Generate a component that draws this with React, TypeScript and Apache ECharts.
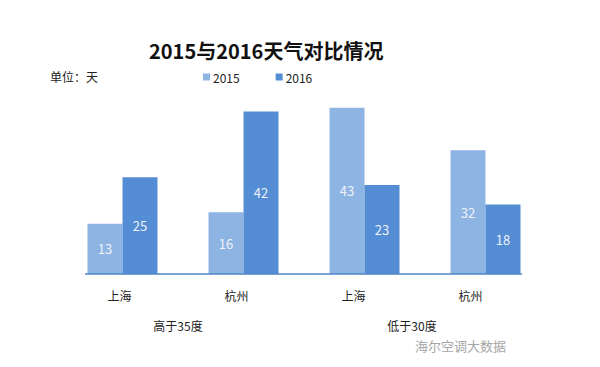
import React, { useEffect, useRef } from "react";
import * as echarts from "echarts";

const cities = ["上海", "杭州", "上海", "杭州"];
const groups = ["高于35度", "低于30度"];
const seriesNames = ["2015", "2016"];
const values2015 = [13, 16, 43, 32];
const values2016 = [25, 42, 23, 18];

const FONT = "'Noto Sans CJK SC', 'Noto Sans', sans-serif";

export default function App() {
  const ref = useRef<HTMLDivElement>(null);
  useEffect(() => {
    const chart = echarts.init(ref.current!, undefined, { renderer: "svg" });
    const label = {
      show: true,
      position: "inside",
      color: "#eef3fa",
      fontSize: 13,
      fontFamily: FONT,
    };
    chart.setOption({
      animation: false,
      backgroundColor: "#ffffff",
      textStyle: { fontFamily: FONT },
      title: {
        text: "2015与2016天气对比情况",
        left: 144,
        top: 35,
        textStyle: { fontSize: 20, fontWeight: "bold", color: "#111", fontFamily: FONT },
      },
      legend: {
        data: seriesNames,
        left: 198,
        top: 66,
        itemWidth: 7,
        itemHeight: 7,
        itemGap: 36,
        icon: "rect",
        textStyle: { fontSize: 12, color: "#222", padding: [0, 0, 0, -2] },
      },
      grid: [
        { left: 62, right: 54, top: 100, bottom: 93 },
        { left: 61, right: 71, top: 100, bottom: 93 },
      ],
      xAxis: [
        {
          type: "category",
          gridIndex: 0,
          data: cities,
          axisLine: { show: false },
          axisTick: { show: false },
          axisLabel: { show: false },
        },
        {
          type: "category",
          gridIndex: 1,
          data: cities,
          axisLine: { show: false },
          axisTick: { show: false },
          axisLabel: { margin: 15, fontSize: 12, color: "#222" },
        },
        {
          type: "category",
          gridIndex: 1,
          position: "bottom",
          offset: 30,
          data: groups,
          axisLine: { show: false },
          axisTick: { show: false },
          axisLabel: { margin: 15, fontSize: 12, color: "#222" },
        },
      ],
      yAxis: [
        { type: "value", gridIndex: 0, min: 0, max: 45, show: false },
        { type: "value", gridIndex: 1, min: 0, max: 45, show: false },
      ],
      series: [
        {
          name: seriesNames[0],
          type: "bar",
          xAxisIndex: 0,
          yAxisIndex: 0,
          data: values2015,
          barWidth: 35,
          barGap: "0%",
          itemStyle: { color: "#8eb4e3" },
          label,
        },
        {
          name: seriesNames[1],
          type: "bar",
          xAxisIndex: 0,
          yAxisIndex: 0,
          data: values2016,
          barWidth: 35,
          barGap: "0%",
          itemStyle: { color: "#548dd4" },
          label,
        },
      ],
      graphic: [
        {
          type: "line",
          shape: { x1: 85, y1: 274, x2: 522, y2: 274 },
          style: { stroke: "#4f86c9", lineWidth: 1.5 },
          z: 10,
        },
        {
          type: "text",
          left: 50,
          top: 70,
          style: { text: "单位：天", fill: "#222", font: `12px ${FONT}` },
        },
        {
          type: "text",
          left: 415,
          top: 339,
          style: { text: "海尔空调大数据", fill: "#a6a6a6", font: `13px ${FONT}` },
        },
      ],
    });
    return () => chart.dispose();
  }, []);
  return (
    <div
      ref={ref}
      style={{ position: "absolute", left: 0, top: 0, width: 600, height: 367 }}
    />
  );
}
